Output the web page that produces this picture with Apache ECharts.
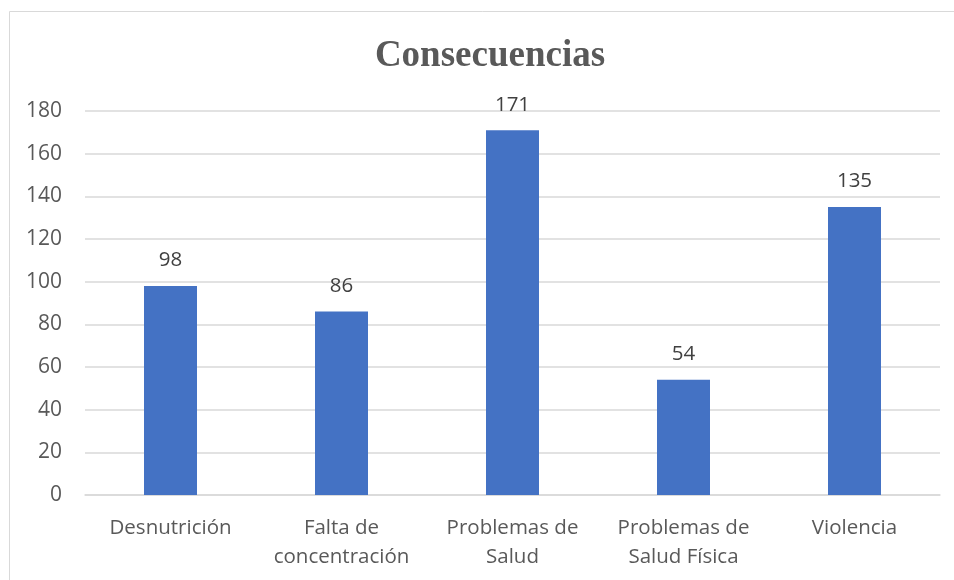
<!DOCTYPE html>
<html>
<head>
<meta charset="utf-8">
<script src="https://cdn.jsdelivr.net/npm/echarts@6/dist/echarts.min.js"></script>
<style>
  html, body { margin: 0; padding: 0; background: #fff; }
  #chart { width: 954px; height: 580px; }
</style>
</head>
<body>
<div id="chart"></div>
<script>
// data
const categories = ['Desnutrición', 'Falta de\nconcentración', 'Problemas de\nSalud', 'Problemas de\nSalud Física', 'Violencia']
const values = [98, 86, 171, 54, 135]
const yTicks = [0, 20, 40, 60, 80, 100, 120, 140, 160, 180]

const chart = echarts.init(document.getElementById('chart'))
const labelFont = '"Open Sans", sans-serif'

chart.setOption({
  animation: false,
  graphic: [{
    type: 'rect',
    shape: { x: 9.5, y: 11.5, width: 960, height: 600 },
    style: { fill: 'none', stroke: '#d9d9d9', lineWidth: 1 },
    silent: true
  }],
  title: {
    text: 'Consecuencias',
    left: 485,
    top: 33,
    textAlign: 'center',
    textStyle: {
      fontFamily: '"Liberation Serif", "DejaVu Serif", serif',
      fontWeight: 'bold',
      fontSize: 37,
      color: '#595959'
    }
  },
  grid: {
    left: 85,
    right: 14,
    top: 111,
    bottom: 85
  },
  xAxis: {
    type: 'category',
    data: categories,
    axisTick: { show: false },
    axisLine: { lineStyle: { color: '#d9d9d9', width: 1.5 } },
    axisLabel: {
      color: '#595959',
      fontFamily: labelFont,
      fontSize: 20.5,
      lineHeight: 29,
      margin: 19,
      interval: 0
    }
  },
  yAxis: {
    type: 'value',
    min: yTicks[0],
    max: yTicks[yTicks.length - 1],
    interval: 20,
    axisLine: { show: false },
    axisTick: { show: false },
    splitLine: { lineStyle: { color: '#d9d9d9', width: 1.5 } },
    axisLabel: {
      color: '#595959',
      fontFamily: labelFont,
      fontSize: 21,
      margin: 23
    }
  },
  series: [{
    type: 'bar',
    data: values,
    barWidth: 53,
    itemStyle: { color: '#4472c4' },
    label: {
      show: true,
      position: 'top',
      distance: 15,
      color: '#404040',
      fontFamily: labelFont,
      fontSize: 20.5
    }
  }]
})
</script>
</body>
</html>
